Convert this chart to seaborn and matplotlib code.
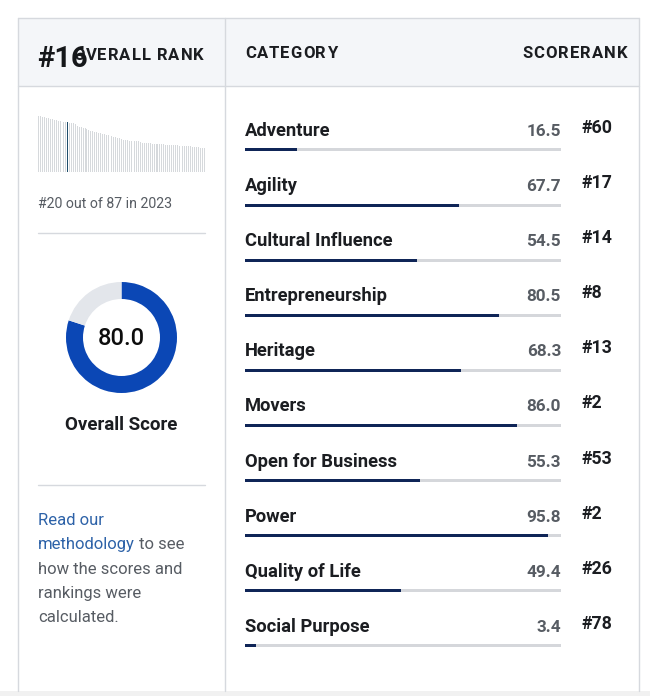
import matplotlib
matplotlib.use("Agg")
import matplotlib.pyplot as plt
import seaborn as sns
import pandas as pd

# category table
categories = ["Adventure", "Agility", "Cultural Influence", "Entrepreneurship",
              "Heritage", "Movers", "Open for Business", "Power",
              "Quality of Life", "Social Purpose"]
scores = [16.5, 67.7, 54.5, 80.5, 68.3, 86.0, 55.3, 95.8, 49.4, 3.4]
ranks = [60, 17, 14, 8, 13, 2, 53, 2, 26, 78]

overall_rank = 16
overall_score = 80.0
prev_rank = 20
prev_total = 87
prev_year = 2023

# overall scores of every country
spark = [56, 56, 55, 55, 54, 54, 53, 53, 52, 52,
         51, 51, 51, 50, 50, 50, 49, 49, 49, 48,
         46, 45, 45, 44, 44, 43, 42, 41, 41, 40,
         40, 39, 39, 38, 38, 37, 37, 36, 36, 35,
         35, 34, 34, 33, 32, 32, 32, 31, 31, 31,
         31, 31, 31, 30, 29, 29, 29, 29, 29, 28,
         28, 28, 28, 28, 28, 28, 27, 27, 27, 27,
         27, 27, 27, 26, 26, 26, 26, 26, 26, 26,
         25, 25, 25, 25, 24, 24, 24]

W, H = 650, 696
BORDER = "#d6d9de"
HEAD_BG = "#f4f6f9"
TRACK = "#d5d7db"
NAVY = "#0f2557"
BLUE = "#0b47b5"
RING_GREY = "#e3e6eb"
GREY_TXT = "#575c63"
LINK = "#2d62a8"
DARK = "#1b1d21"

sns.set_theme(style="white")
plt.rcParams["font.family"] = ["Roboto", "DejaVu Sans"]


def box(x0, y0, x1, y1):
    # pixel box (top-left origin) -> figure fractions
    return [x0 / W, 1 - y1 / H, (x1 - x0) / W, (y1 - y0) / H]


fig = plt.figure(figsize=(W / 100, H / 100), dpi=100)
renderer = fig.canvas.get_renderer()

# background / card frame in pixel coordinates
bg = fig.add_axes([0, 0, 1, 1])
bg.set_xlim(0, W)
bg.set_ylim(H, 0)
bg.axis("off")


def spaced(x0, x1, y, s, **kw):
    # letter-spaced caps text stretched between x0 and x1 (pixels)
    widths = []
    for ch in s:
        if ch == " ":
            widths.append(None)
            continue
        t = bg.text(0, 0, ch, **kw)
        widths.append(t.get_window_extent(renderer).width)
        t.remove()
    space = 0.26 * kw.get("fontsize", 10) * 100 / 72
    total = sum(w if w is not None else space for w in widths)
    gap = (x1 - x0 - total) / (len(s) - 1)
    x = x0
    for ch, w in zip(s, widths):
        if w is None:
            x += space + gap
            continue
        bg.text(x, y, ch, ha="left", va="baseline", **kw)
        x += w + gap


bg.fill_between([0, W], 691, H, color="#f1f1f1", lw=0)
bg.fill_between([18, 639], 18, 86, color=HEAD_BG, lw=0)
bg.plot([18, 639], [18, 18], color=BORDER, lw=1)
bg.plot([18, 639], [86, 86], color=BORDER, lw=1)
bg.plot([18, 18], [18, 691], color=BORDER, lw=1)
bg.plot([639, 639], [18, 691], color=BORDER, lw=1)
bg.plot([225, 225], [18, 691], color=BORDER, lw=1)
bg.plot([38, 205], [233, 233], color=BORDER, lw=1)
bg.plot([38, 205], [485, 485], color=BORDER, lw=1)

# header texts
head = dict(fontsize=12, fontweight="bold", color=DARK)
spaced(73, 204, 60.5, "OVERALL RANK", **head)
bg.text(37, 67, f"#{overall_rank}", fontsize=21, fontweight="bold", color="#15171a",
        ha="left", va="baseline")
spaced(245, 337, 58.5, "CATEGORY", **head)
spaced(522, 628, 58.5, "SCORERANK", **head)

# sparkline of all countries
ax_s = fig.add_axes(box(38, 116, 205, 172))
spark_df = pd.DataFrame({"pos": range(len(spark)), "val": spark})
spark_df["hl"] = spark_df["pos"] == overall_rank - 1
sns.barplot(data=spark_df, x="pos", y="val", hue="hl",
            palette={False: "#d6d9dc", True: "#1f4d6b"}, width=0.5,
            dodge=False, legend=False, linewidth=0, saturation=1, ax=ax_s)
ax_s.set_xlim(-0.5, len(spark) - 0.5)
ax_s.set_ylim(0, max(spark))
ax_s.axis("off")

bg.text(38, 208.5, f"#{prev_rank} out of {prev_total} in {prev_year}",
        fontsize=10.2, color=GREY_TXT, ha="left", va="baseline")

# donut of the overall score
ax_d = fig.add_axes(box(66, 282, 177, 393))
ax_d.pie([overall_score, 100 - overall_score], colors=[BLUE, RING_GREY],
         startangle=90, counterclock=False,
         wedgeprops=dict(width=17 / 55.5, linewidth=0))
ax_d.set_xlim(-1, 1)
ax_d.set_ylim(-1, 1)
ax_d.set_aspect("equal")
ax_d.text(0, -0.02, f"{overall_score:.1f}", fontsize=17, fontweight="medium",
          color="#0d0d0d", ha="center", va="center")

bg.text(121.5, 430, "Overall Score", fontsize=13.5, fontweight="bold",
        color=DARK, ha="center", va="baseline")

# methodology note
note_fs = 12
bg.text(38, 525, "Read our", fontsize=note_fs, color=LINK, va="baseline")
t2 = bg.text(38, 549, "methodology", fontsize=note_fs, color=LINK, va="baseline")
ext = t2.get_window_extent(renderer)
x_after = bg.transData.inverted().transform((ext.x1, ext.y0))[0]
bg.text(x_after, 549, " to see", fontsize=note_fs, color=GREY_TXT, va="baseline")
for y, line in zip([573.5, 598, 622.5],
                   ["how the scores and", "rankings were", "calculated."]):
    bg.text(38, y, line, fontsize=note_fs, color=GREY_TXT, va="baseline")

# category bars
pitch = 55.1
ax_r = fig.add_axes(box(245, 150 - 1.2 * pitch, 561, 150 + 9.5 * pitch))
df = pd.DataFrame({"category": categories, "score": scores,
                   "full": [100] * len(categories)})
bw = 3 / pitch
sns.barplot(data=df, y="category", x="full", color=TRACK, width=bw,
            linewidth=0, saturation=1, ax=ax_r)
sns.barplot(data=df, y="category", x="score", color=NAVY, width=bw,
            linewidth=0, saturation=1, ax=ax_r)
ax_r.set_xlim(0, 100)
ax_r.set_ylim(9.5, -1.2)
ax_r.axis("off")

rank_x = (581 - 245) / 316 * 100
for i, (cat, sc, rk) in enumerate(zip(categories, scores, ranks)):
    ax_r.text(0, i - 14 / pitch, cat, fontsize=13.2, fontweight="bold",
              color=DARK, ha="left", va="baseline", clip_on=False)
    ax_r.text(100, i - 14 / pitch, f"{sc:.1f}", fontsize=12.3, fontweight="bold",
              color=GREY_TXT, ha="right", va="baseline", clip_on=False)
    ax_r.text(rank_x, i - 17 / pitch, f"#{rk}", fontsize=12.8, fontweight="bold",
              color=DARK, ha="left", va="baseline", clip_on=False)

fig.savefig("out.png", dpi=100)
